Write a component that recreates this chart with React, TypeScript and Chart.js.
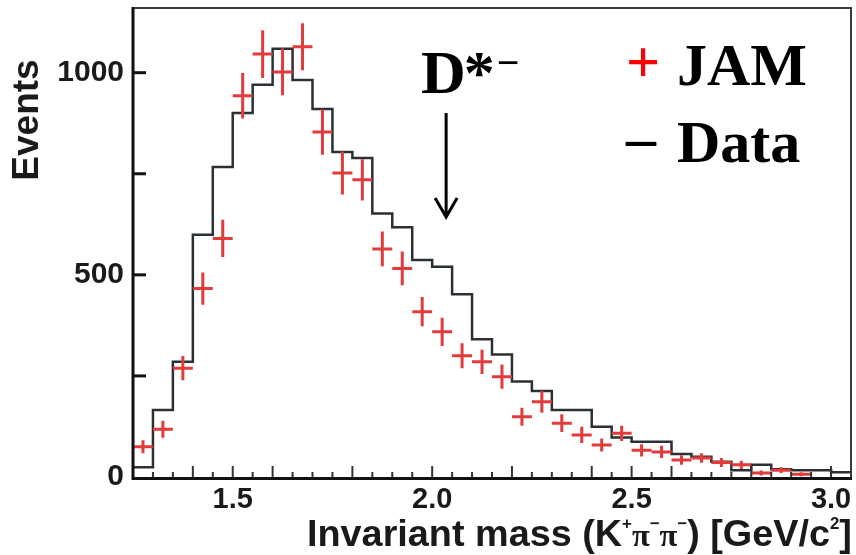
import React, { useEffect, useRef } from 'react';
import { Chart, registerables } from 'chart.js';

Chart.register(...registerables);

// ---- data ----
const binLowEdges = [
  1.25, 1.3, 1.35, 1.4, 1.45, 1.5, 1.55, 1.6, 1.65, 1.7, 1.75, 1.8,
  1.85, 1.9, 1.95, 2.0, 2.05, 2.1, 2.15, 2.2, 2.25, 2.3, 2.35, 2.4,
  2.45, 2.5, 2.55, 2.6, 2.65, 2.7, 2.75, 2.8, 2.85, 2.9, 2.95, 3.0,
];
const binWidth = 0.05;
const dataCounts = [
  24, 166, 285, 599, 767, 900, 970, 1059, 982, 910, 804, 789,
  652, 618, 537, 520, 452, 341, 303, 236, 213, 166, 166, 124,
  98, 87, 87, 57, 50, 38, 17, 30, 19, 17, 17, 12,
];
const jamCounts = [
  75, 118, 269, 466, 590, 943, 1046, 1002, 1064, 853, 752, 735,
  564, 516, 409, 359, 300, 285, 248, 149, 186, 133, 104, 79,
  108, 66, 62, 42, 47, 36, 30, 10, 17, 7,
];
const jamErrors = [
  16, 21, 30, 40, 46, 56, 59, 58, 58, 56, 53, 51,
  43, 42, 36, 35, 31, 30, 30, 22, 27, 22, 20, 16,
  19, 15, 15, 12, 12, 11, 10, 6, 7, 5,
];
const xTickLabels = [1.5, 2.0, 2.5, 3.0];
const xMajorTicks = [1.4, 1.5, 1.6, 1.8, 2.0, 2.2, 2.4, 2.5, 2.6, 2.8, 3.0];
const yTickValues = [0, 250, 500, 750, 1000];
const yTickLabels = ['0', '', '500', '', '1000'];
const xRange = [1.25, 3.05];
const yRange = [0, 1160];
const dStarMass = 2.035;
const arrowSpan = [900, 643];

const SANS = '"Liberation Sans", Arial, sans-serif';
const SERIF = '"Liberation Serif", "Times New Roman", serif';

export default function App() {
  const ref = useRef<HTMLCanvasElement>(null);

  useEffect(() => {
    document.body.style.margin = '0';
    const canvas = ref.current!;

    const histPoints = binLowEdges.map((x, i) => ({ x, y: dataCounts[i] }));
    histPoints.push({
      x: binLowEdges[binLowEdges.length - 1] + binWidth,
      y: dataCounts[dataCounts.length - 1],
    });
    const jamPoints = jamCounts.map((y, i) => ({ x: binLowEdges[i] + binWidth / 2, y }));

    const custom = {
      id: 'customDraw',
      afterDatasetsDraw(chart: any) {
        const ctx = chart.ctx as CanvasRenderingContext2D;
        const xs = chart.scales.x;
        const ys = chart.scales.y;
        const pts = chart.data.datasets[1].data as { x: number; y: number }[];
        ctx.save();
        ctx.strokeStyle = '#e23b3b';
        ctx.lineWidth = 3;
        ctx.lineCap = 'butt';
        pts.forEach((p, i) => {
          const cx = xs.getPixelForValue(p.x);
          const cy = ys.getPixelForValue(p.y);
          const x0 = xs.getPixelForValue(p.x - binWidth / 2);
          const x1 = xs.getPixelForValue(p.x + binWidth / 2);
          const yTop = ys.getPixelForValue(p.y + jamErrors[i]);
          const yBot = ys.getPixelForValue(p.y - jamErrors[i]);
          ctx.beginPath();
          ctx.moveTo(x0, cy);
          ctx.lineTo(x1, cy);
          ctx.moveTo(cx, yTop);
          ctx.lineTo(cx, yBot);
          ctx.stroke();
        });
        ctx.restore();
      },
      afterDraw(chart: any) {
        const ctx = chart.ctx as CanvasRenderingContext2D;
        const xs = chart.scales.x;
        const ys = chart.scales.y;
        const { left, right, top, bottom } = chart.chartArea;
        ctx.save();

        // frame
        ctx.strokeStyle = '#3a3a3a';
        ctx.lineWidth = 2;
        ctx.beginPath();
        ctx.moveTo(left, top);
        ctx.lineTo(right, top);
        ctx.lineTo(right, bottom);
        ctx.stroke();
        ctx.strokeStyle = '#111';
        ctx.lineWidth = 3;
        ctx.beginPath();
        ctx.moveTo(left, top - 1);
        ctx.lineTo(left, bottom + 1.5);
        ctx.lineTo(right + 1, bottom + 1.5);
        ctx.stroke();

        // y ticks (inward)
        ctx.lineWidth = 3;
        yTickValues.forEach((v) => {
          if (v === 0) return;
          const y = ys.getPixelForValue(v);
          ctx.beginPath();
          ctx.moveTo(left, y);
          ctx.lineTo(left + 13, y);
          ctx.stroke();
        });

        // x ticks (inward)
        ctx.lineWidth = 2;
        ctx.strokeStyle = '#333';
        for (let k = 1; k * binWidth + xRange[0] < xRange[1] - 1e-6; k++) {
          const v = xRange[0] + k * binWidth;
          const major = xMajorTicks.some((m) => Math.abs(m - v) < 1e-6);
          const x = xs.getPixelForValue(v);
          ctx.beginPath();
          ctx.moveTo(x, bottom);
          ctx.lineTo(x, bottom - (major ? 11 : 5));
          ctx.stroke();
        }

        // y title
        ctx.fillStyle = '#1a1a1a';
        ctx.save();
        ctx.translate(38, 120);
        ctx.rotate(-Math.PI / 2);
        ctx.font = `bold 37px ${SANS}`;
        ctx.textAlign = 'center';
        ctx.textBaseline = 'alphabetic';
        ctx.fillText('Events', 0, 0);
        ctx.restore();

        // x title, piecewise for super-scripts, fitted to its span
        const makePieces = (s: number) => {
          const big = `bold ${36 * s}px ${SANS}`;
          const sup = `bold ${16 * s}px ${SANS}`;
          const pi = `bold ${31 * s}px ${SERIF}`;
          return [
            { t: 'Invariant mass (K', f: big, dy: 0 },
            { t: '+', f: sup, dy: -17 },
            { t: 'π', f: pi, dy: 0 },
            { t: '−', f: sup, dy: -17 },
            { t: 'π', f: pi, dy: 0 },
            { t: '−', f: sup, dy: -17 },
            { t: ') [GeV/c', f: big, dy: 0 },
            { t: '2', f: sup, dy: -17 },
            { t: ']', f: big, dy: 0 },
          ];
        };
        const measure = (ps: { t: string; f: string }[]) => {
          let w = 0;
          ps.forEach((p) => {
            ctx.font = p.f;
            w += ctx.measureText(p.t).width;
          });
          return w;
        };
        ctx.textAlign = 'left';
        const span = 852 - 307;
        const w0 = measure(makePieces(1));
        const pieces = makePieces(span / w0);
        let px = 307;
        const base = 546;
        pieces.forEach((p) => {
          ctx.font = p.f;
          ctx.fillText(p.t, px, base + p.dy);
          px += ctx.measureText(p.t).width;
        });

        // legend
        ctx.font = `bold 60px ${SERIF}`;
        ctx.fillStyle = '#ff0000';
        ctx.fillText('+', 626, 82);
        ctx.fillStyle = '#000';
        ctx.fillText('JAM', 677, 85);
        ctx.fillText('–', 626, 158);
        ctx.fillText('Data', 677, 162);

        // D*- annotation
        ctx.font = `bold 62px ${SERIF}`;
        ctx.fillText('D', 421, 93);
        const dW = ctx.measureText('D').width;
        ctx.fillText('*', 419 + dW, 93);
        const sW = ctx.measureText('*').width;
        ctx.font = `bold 40px ${SERIF}`;
        ctx.fillText('−', 419 + dW + sW + 2, 76);

        // arrow
        const ax = xs.getPixelForValue(dStarMass);
        const ay0 = ys.getPixelForValue(arrowSpan[0]);
        const ay1 = ys.getPixelForValue(arrowSpan[1]);
        ctx.strokeStyle = '#000';
        ctx.lineWidth = 3;
        ctx.beginPath();
        ctx.moveTo(ax, ay0);
        ctx.lineTo(ax, ay1);
        ctx.moveTo(ax - 11, ay1 - 19);
        ctx.lineTo(ax, ay1);
        ctx.lineTo(ax + 11, ay1 - 19);
        ctx.stroke();

        ctx.restore();
      },
    };

    const chart = new Chart(canvas, {
      type: 'line',
      data: {
        datasets: [
          {
            label: 'Data',
            data: histPoints,
            stepped: 'before',
            borderColor: '#2b3035',
            borderWidth: 2.5,
            pointRadius: 0,
            fill: false,
          },
          {
            label: 'JAM',
            data: jamPoints,
            showLine: false,
            pointRadius: 0,
            borderColor: '#e23b3b',
          },
        ],
      },
      options: {
        animation: false,
        responsive: false,
        devicePixelRatio: 1,
        layout: { padding: { top: 8, right: 5, left: 0, bottom: 0 } },
        plugins: { legend: { display: false }, tooltip: { enabled: false } },
        scales: {
          x: {
            type: 'linear',
            min: xRange[0],
            max: xRange[1],
            grid: { display: false, drawTicks: false },
            border: { display: false },
            afterBuildTicks: (s: any) => {
              s.ticks = xTickLabels.map((v) => ({ value: v }));
            },
            ticks: {
              autoSkip: false,
              maxRotation: 0,
              padding: 6,
              color: '#1a1a1a',
              font: { family: SANS, weight: 'bold', size: 29 },
              callback: (v: any) => Number(v).toFixed(1),
            },
            afterFit: (s: any) => {
              s.height = 78;
              s.paddingLeft = 0;
              s.paddingRight = 0;
            },
          },
          y: {
            type: 'linear',
            min: yRange[0],
            max: yRange[1],
            grid: { display: false, drawTicks: false },
            border: { display: false },
            afterBuildTicks: (s: any) => {
              s.ticks = yTickValues.map((v) => ({ value: v }));
            },
            ticks: {
              autoSkip: false,
              padding: 9,
              color: '#1a1a1a',
              font: { family: SANS, weight: 'bold', size: 30 },
              callback: (_v: any, i: number) => yTickLabels[i],
            },
            afterFit: (s: any) => {
              s.width = 133;
              s.paddingTop = 0;
              s.paddingBottom = 0;
            },
          },
        },
      },
      plugins: [custom],
    } as any);

    return () => chart.destroy();
  }, []);

  return (
    <div style={{ width: 856, height: 555 }}>
      <canvas ref={ref} width={856} height={555} style={{ display: 'block' }} />
    </div>
  );
}
